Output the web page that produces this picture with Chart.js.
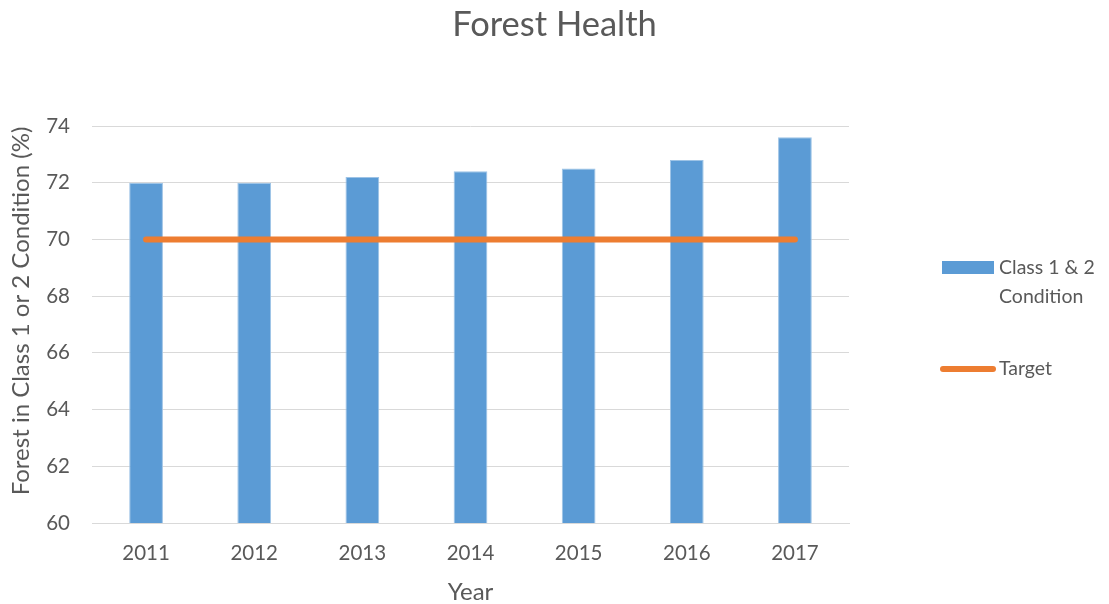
<!DOCTYPE html>
<html>
<head>
<meta charset="utf-8">
<script src="https://cdn.jsdelivr.net/npm/chart.js@4"></script>
<style>
html,body{margin:0;padding:0;background:#fff;}
#wrap{width:1109px;height:604px;position:relative;}
</style>
</head>
<body>
<div id="wrap"><canvas id="c" width="1109" height="604"></canvas></div>
<script>
const chartTitle = 'Forest Health';
const yTitle = 'Forest in Class 1 or 2 Condition (%)';
const xTitle = 'Year';
const years = ['2011','2012','2013','2014','2015','2016','2017'];
const classValues = [72.0, 72.0, 72.2, 72.4, 72.5, 72.8, 73.6];
const targetValues = [70, 70, 70, 70, 70, 70, 70];
const seriesNames = [['Class 1 & 2', 'Condition'], ['Target']];
const yTicks = [60, 62, 64, 66, 68, 70, 72, 74];

const FONT = 'Lato, "Open Sans", sans-serif';
const TXT = '#595959';
const BLUE = '#5b9bd5';
const ORANGE = '#ed7d31';

const overlayPlugin = {
  id: 'overlay',
  afterDraw(chart) {
    const ctx = chart.ctx;
    ctx.save();
    ctx.fillStyle = TXT;
    ctx.textAlign = 'center';
    ctx.textBaseline = 'middle';
    // chart title, centred on the whole canvas
    ctx.font = '34.5px ' + FONT;
    ctx.fillText(chartTitle, chart.width / 2, 25);
    // y-axis title
    ctx.save();
    ctx.font = '24px ' + FONT;
    ctx.translate(21, 311);
    ctx.rotate(-Math.PI / 2);
    ctx.fillText(yTitle, 0, 0);
    ctx.restore();
    // legend
    ctx.font = '19.5px ' + FONT;
    ctx.textAlign = 'left';
    ctx.fillStyle = BLUE;
    ctx.fillRect(942, 261, 52, 13);
    ctx.fillStyle = TXT;
    seriesNames[0].forEach((t, i) => ctx.fillText(t, 999, 268 + i * 29));
    ctx.strokeStyle = ORANGE;
    ctx.lineWidth = 6;
    ctx.lineCap = 'round';
    ctx.beginPath();
    ctx.moveTo(943, 369);
    ctx.lineTo(993, 369);
    ctx.stroke();
    ctx.fillText(seriesNames[1][0], 999, 369);
    ctx.restore();
  }
};

new Chart(document.getElementById('c'), {
  data: {
    labels: years,
    datasets: [
      {
        type: 'line',
        label: 'Target',
        data: targetValues,
        borderColor: ORANGE,
        backgroundColor: ORANGE,
        borderWidth: 6,
        borderCapStyle: 'round',
        pointRadius: 0,
        pointHoverRadius: 0,
        order: 0
      },
      {
        type: 'bar',
        label: 'Class 1 & 2 Condition',
        data: classValues,
        backgroundColor: BLUE,
        borderColor: '#9dc3e6',
        borderWidth: {top: 1, left: 1, right: 1, bottom: 0},
        barPercentage: 1,
        categoryPercentage: 0.312,
        order: 1
      }
    ]
  },
  options: {
    responsive: false,
    animation: false,
    devicePixelRatio: 1,
    layout: { padding: { top: 126, right: 260, bottom: 0, left: 0 } },
    plugins: {
      legend: { display: false },
      tooltip: { enabled: false },
      title: { display: false }
    },
    scales: {
      x: {
        offset: true,
        grid: { display: false, drawTicks: false },
        border: { display: true, color: '#d9d9d9', width: 1 },
        ticks: { color: TXT, font: { family: FONT, size: 20.5 }, padding: 18 },
        title: {
          display: true, text: xTitle, color: TXT,
          font: { family: FONT, size: 24, lineHeight: 1.2 },
          padding: { top: 0, bottom: -3 }
        },
        afterFit(scale) { scale.height = 81; }
      },
      y: {
        min: 60, max: 74,
        afterBuildTicks(scale) { scale.ticks = yTicks.map(v => ({ value: v })); },
        grid: { color: '#d9d9d9', lineWidth: 1, drawTicks: false },
        border: { display: false },
        ticks: { color: TXT, font: { family: FONT, size: 20.5 }, padding: 22 },
        title: { display: false },
        afterFit(scale) { scale.width = 92; }
      }
    }
  },
  plugins: [overlayPlugin]
});
</script>
</body>
</html>
